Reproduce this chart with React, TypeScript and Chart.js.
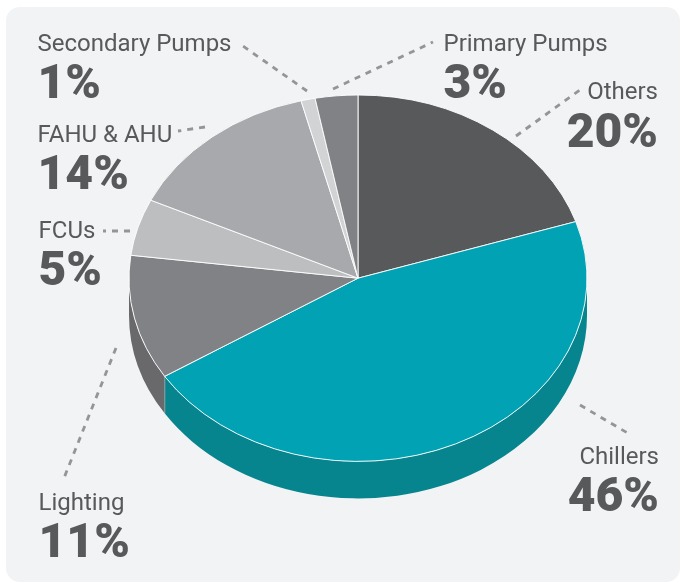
import React, { useEffect, useRef } from "react";
import { Chart, registerables } from "chart.js";

Chart.register(...registerables);

const categories = ["Others", "Chillers", "Lighting", "FCUs", "FAHU & AHU", "Secondary Pumps", "Primary Pumps"];
const shares = [20, 46, 11, 5, 14, 1, 3];
const topColors = ["#58595b", "#01a2b3", "#808285", "#bcbec0", "#a7a9ac", "#d1d3d4", "#808285"];
const sideColors = ["#47484a", "#07858f", "#69696c", "#98999b", "#87888a", "#a9aaab", "#69696c"];

const WIDTH = 681;
const HEIGHT = 583;
const SQUASH = 0.8;
const DEPTH = 37;
const TEXT = "#58595b";
const LEADER = "#939598";

// Layout of the callouts, in the same order as categories.
const callouts = [
  { x: 658, align: "right", nameY: 99, valueY: 147, line: [516, 136, 580, 90] },
  { x: 659, align: "right", nameY: 464, valueY: 511, line: [580, 405, 631, 435] },
  { x: 38.5, align: "left", nameY: 510, valueY: 557, line: [116, 348, 64, 478] },
  { x: 38.5, align: "left", nameY: 238, valueY: 285, line: [130, 231, 103, 231] },
  { x: 37.5, align: "left", nameY: 142, valueY: 189, line: [205, 127, 178, 131] },
  { x: 37.5, align: "left", nameY: 51, valueY: 98, line: [307, 91, 240, 44] },
  { x: 443.5, align: "left", nameY: 51, valueY: 98, line: [333, 89, 433, 42] },
];

const piePlugin = {
  id: "extrudedPie",
  beforeDraw(chart: any) {
    const { ctx } = chart;
    ctx.save();
    ctx.fillStyle = "#f2f3f5";
    ctx.beginPath();
    ctx.roundRect(6, 7, 674, 575, 14);
    ctx.fill();
    ctx.restore();
  },
  beforeDatasetsDraw(chart: any) {
    const { ctx } = chart;
    const arcs = chart.getDatasetMeta(0).data;
    const { x: cx, y: cy, outerRadius: r } = arcs[0];
    const ry = r * SQUASH;
    ctx.save();
    arcs.forEach((arc: any, i: number) => {
      // Only the front half of the rim is visible.
      const from = Math.max(arc.startAngle, 0);
      const to = Math.min(arc.endAngle, Math.PI);
      if (to <= from) return;
      ctx.fillStyle = sideColors[i];
      ctx.beginPath();
      ctx.ellipse(cx, cy, r, ry, 0, from, to);
      ctx.ellipse(cx, cy + DEPTH, r, ry, 0, to, from, true);
      ctx.closePath();
      ctx.fill();
      if (arc.endAngle < Math.PI) {
        const ex = cx + r * Math.cos(arc.endAngle);
        const ey = cy + ry * Math.sin(arc.endAngle);
        ctx.strokeStyle = "#d5d8da";
        ctx.lineWidth = 1;
        ctx.beginPath();
        ctx.moveTo(ex, ey);
        ctx.lineTo(ex, ey + DEPTH);
        ctx.stroke();
      }
    });
    ctx.restore();
    ctx.save();
    ctx.translate(cx, cy);
    ctx.scale(1, SQUASH);
    ctx.translate(-cx, -cy);
  },
  afterDatasetsDraw(chart: any) {
    const { ctx } = chart;
    ctx.restore();
    ctx.save();
    ctx.strokeStyle = LEADER;
    ctx.lineWidth = 2.8;
    ctx.setLineDash([6, 6]);
    callouts.forEach(({ line }) => {
      ctx.beginPath();
      ctx.moveTo(line[0], line[1]);
      ctx.lineTo(line[2], line[3]);
      ctx.stroke();
    });
    ctx.setLineDash([]);
    ctx.fillStyle = TEXT;
    ctx.textBaseline = "alphabetic";
    callouts.forEach((c, i) => {
      ctx.textAlign = c.align;
      ctx.font = "400 24px Roboto";
      ctx.fillText(categories[i], c.x, c.nameY);
      ctx.font = "900 48px Roboto";
      ctx.fillText(`${shares[i]}%`, c.x, c.valueY);
    });
    ctx.restore();
  },
};

export default function App() {
  const ref = useRef<HTMLCanvasElement>(null);
  useEffect(() => {
    document.body.style.margin = "0";
    document.body.style.background = "#fff";
    const chart = new Chart(ref.current!, {
      type: "pie",
      data: {
        labels: categories,
        datasets: [{ data: shares, backgroundColor: topColors, borderColor: "#ffffff", borderWidth: 1 }],
      },
      options: {
        responsive: false,
        animation: false,
        layout: { padding: { left: 128.5, right: 93.5, top: 48.7, bottom: 75.3 } },
        plugins: { legend: { display: false }, tooltip: { enabled: false } },
      },
      plugins: [piePlugin],
    });
    return () => chart.destroy();
  }, []);
  return <canvas ref={ref} width={WIDTH} height={HEIGHT} style={{ display: "block" }} />;
}
